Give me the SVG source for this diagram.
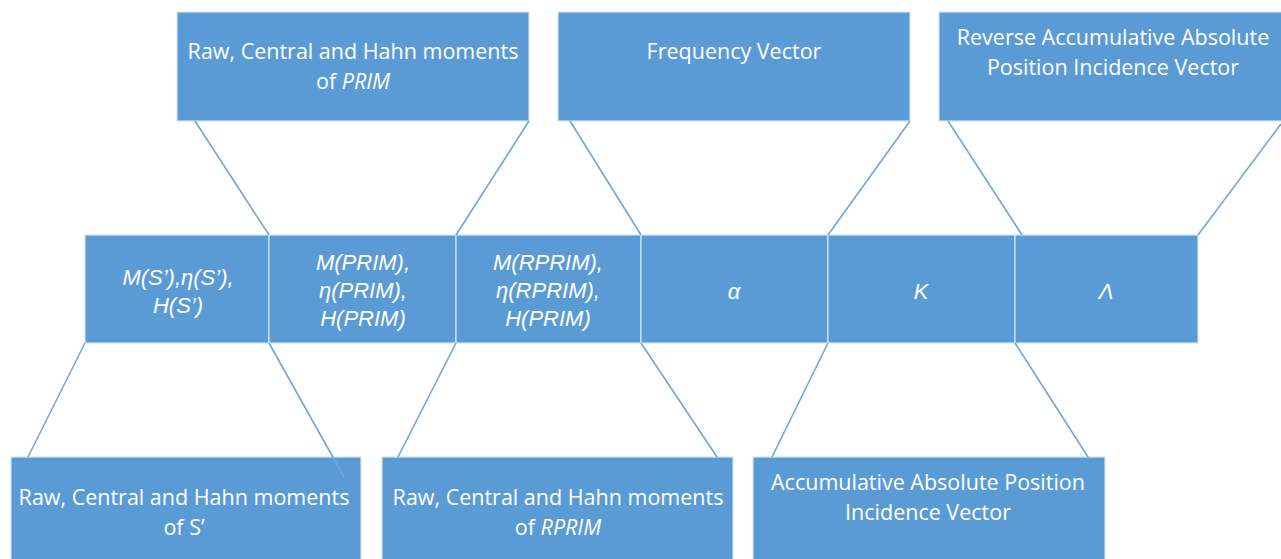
<svg xmlns="http://www.w3.org/2000/svg" width="1281" height="559" viewBox="0 0 1281 559">
<style>
.box{fill:#5b9bd5;stroke:#d6e4f2;stroke-width:1.2}
.t{fill:#ffffff;font-family:"Open Sans","Liberation Sans",sans-serif;font-size:21.5px;text-anchor:middle}
.m{font-family:"Liberation Sans","Arial",sans-serif;font-size:22px}
.i{font-style:italic}
.c line{stroke:#6fa6d9;stroke-width:1.6}
</style>
<rect width="1281" height="559" fill="#ffffff"/>
<g id="top-prim"><rect class="box" x="177" y="12" width="352" height="109"/>
<text class="t" x="353" y="59">Raw, Central and Hahn moments</text>
<text class="t" x="353" y="89">of <tspan class="i">PRIM</tspan></text></g>
<g id="top-freq"><rect class="box" x="558" y="12" width="352" height="109"/>
<text class="t" x="734" y="59">Frequency Vector</text></g>
<g id="top-rev"><rect class="box" x="939" y="12" width="345" height="109"/>
<text class="t" x="1113" y="45">Reverse Accumulative Absolute</text>
<text class="t" x="1113" y="75">Position Incidence Vector</text></g>
<g id="mid-s"><rect class="box" x="85" y="235" width="184" height="108"/>
<text class="t m i" x="178" y="285">M(S’),η(S’),</text>
<text class="t m i" x="178" y="313">H(S’)</text></g>
<g id="mid-prim"><rect class="box" x="269" y="235" width="187" height="108"/>
<text class="t m i" x="363" y="270">M(PRIM),</text>
<text class="t m i" x="363" y="298">η(PRIM),</text>
<text class="t m i" x="363" y="326">H(PRIM)</text></g>
<g id="mid-rprim"><rect class="box" x="456" y="235" width="185" height="108"/>
<text class="t m i" x="548" y="270">M(RPRIM),</text>
<text class="t m i" x="548" y="298">η(RPRIM),</text>
<text class="t m i" x="548" y="326">H(PRIM)</text></g>
<g id="mid-alpha"><rect class="box" x="641" y="235" width="187" height="108"/>
<text class="t m i" x="734" y="299">α</text></g>
<g id="mid-k"><rect class="box" x="828" y="235" width="187" height="108"/>
<text class="t m i" x="921" y="299">K</text></g>
<g id="mid-l"><rect class="box" x="1015" y="235" width="183" height="108"/>
<text class="t m i" x="1106" y="299">Λ</text></g>
<g id="bot-s"><rect class="box" x="11" y="457" width="350" height="105"/>
<text class="t" x="184" y="505">Raw, Central and Hahn moments</text>
<text class="t" x="184" y="535">of S’</text></g>
<g id="bot-rprim"><rect class="box" x="382" y="457" width="351" height="105"/>
<text class="t" x="558" y="505">Raw, Central and Hahn moments</text>
<text class="t" x="558" y="535">of <tspan class="i">RPRIM</tspan></text></g>
<g id="bot-acc"><rect class="box" x="753" y="457" width="352" height="105"/>
<text class="t" x="928" y="490">Accumulative Absolute Position</text>
<text class="t" x="928" y="520">Incidence Vector</text></g>
<g id="connectors" class="c">
<line x1="195" y1="121" x2="269" y2="235"/>
<line x1="529" y1="121" x2="456" y2="235"/>
<line x1="570" y1="121" x2="641" y2="235"/>
<line x1="910" y1="121" x2="828" y2="235"/>
<line x1="948" y1="121" x2="1022" y2="235"/>
<line x1="1281" y1="124" x2="1198" y2="235"/>
<line x1="85" y1="343" x2="28" y2="457"/>
<line x1="269" y1="343" x2="344" y2="477"/>
<line x1="456" y1="343" x2="398" y2="457"/>
<line x1="641" y1="343" x2="717" y2="457"/>
<line x1="828" y1="343" x2="772" y2="457"/>
<line x1="1015" y1="343" x2="1088" y2="457"/>
</g>
</svg>
